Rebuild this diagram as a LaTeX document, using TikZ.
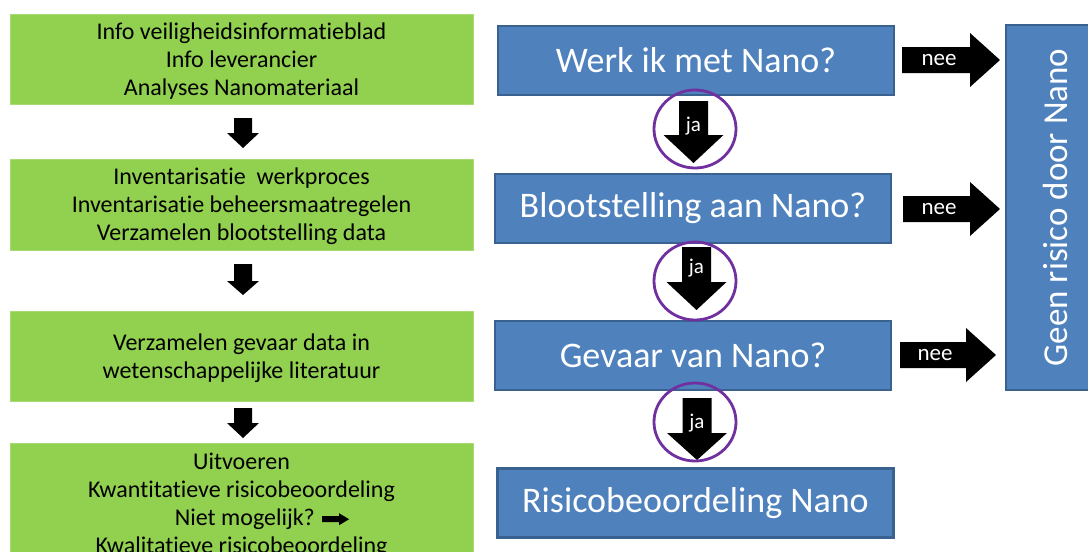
\documentclass[tikz,border=0pt]{standalone}
\usepackage{fontspec}
\setmainfont[Ligatures={NoCommon}]{Carlito}
\usetikzlibrary{shapes.geometric}
\definecolor{grn}{HTML}{92D050}
\definecolor{grnedge}{HTML}{A6DA72}
\definecolor{blu}{HTML}{4F81BD}
\definecolor{bluedge}{HTML}{3A6291}
\definecolor{purp}{HTML}{7030A0}
% block arrow pointing down: centre x, top y, head y, tip y, half shaft, half head
\newcommand\blockdown[6]{%
  \fill[black] (#1-#5,#2) -- (#1+#5,#2) -- (#1+#5,#3) -- (#1+#6,#3) -- (#1,#4)
    -- (#1-#6,#3) -- (#1-#5,#3) -- cycle;}
% block arrow pointing right: centre y, start x, head x, tip x, half shaft, half head
\newcommand\blockright[6]{%
  \fill[black] (#2,#1-#5) -- (#3,#1-#5) -- (#3,#1-#6) -- (#4,#1) -- (#3,#1+#6)
    -- (#3,#1+#5) -- (#2,#1+#5) -- cycle;}
\newcommand\smallarrow{\tikz[x=1pt,y=1pt,baseline=0pt]\fill[black] (0,3)--(17,3)--(17,0)--(27,6)--(17,12)--(17,9)--(0,9)--cycle;}
\begin{document}
\begin{tikzpicture}[x=1pt,y=-1pt,
  greenbox/.style={fill=grn, draw=grnedge, line width=0.8pt, minimum width=463pt, inner sep=0pt},
  greentext/.style={align=center, font=\fontsize{24}{28}\selectfont, inner sep=0pt, yshift=-2pt},
  bluebox/.style={fill=blu, draw=bluedge, line width=2.8pt, text=white,
    font=\fontsize{36}{40}\selectfont, minimum width=396pt, minimum height=69pt, inner sep=0pt},
  jalabel/.style={text=white, font=\fontsize{21}{22}\selectfont, inner sep=0pt},
  neelabel/.style={text=white, font=\fontsize{23}{24}\selectfont, inner sep=0pt},
  ring/.style={ellipse, draw=purp, line width=2.8pt, minimum width=82pt, minimum height=78pt, inner sep=0pt}
]
\useasboundingbox (0,0) rectangle (1088,552);
\clip (0,0) rectangle (1088,552);

% left column
\node[greenbox, minimum height=90pt] (g1) at (241.5,59) {};
\node[greentext] (g1t) at (g1.center) {Info veiligheidsinformatieblad\\Info leverancier\\Analyses Nanomateriaal};
\node[greenbox, minimum height=91pt] (g2) at (241.5,204.5) {};
\node[greentext] (g2t) at (g2.center) {Inventarisatie\ \ werkproces\\Inventarisatie beheersmaatregelen\\Verzamelen blootstelling data};
\node[greenbox, minimum height=90pt] (g3) at (241.5,356) {};
\node[greentext] (g3t) at (g3.center) {Verzamelen gevaar data in\\wetenschappelijke literatuur};
\node[greenbox, minimum height=120pt] (g4) at (241.5,503) {};
\node[greentext] (g4t) at (g4.center) {Uitvoeren\\Kwantitatieve risicobeoordeling\\\hspace*{41pt}Niet mogelijk? \smallarrow\\Kwalitatieve risicobeoordeling};

\blockdown{243}{118}{133}{148}{9}{16}
\blockdown{243}{264}{281}{295}{9}{16}
\blockdown{243}{408}{423}{438}{9}{16}

% right column
\node[bluebox] (b1) at (696,60.5) {Werk ik met Nano?};
\node[bluebox] (b2) at (693,208.5) {Blootstelling aan Nano?};
\node[bluebox] (b3) at (693,355.5) {Gevaar van Nano?};
\node[bluebox] (b4) at (695.5,503) {Risicobeoordeling Nano};

\node[fill=blu, draw=bluedge, line width=2.8pt, minimum width=98pt, minimum height=365pt, inner sep=0pt] (geen) at (1055,207.5) {};
\node[text=white, rotate=90, font=\fontsize{35}{40}\selectfont] (geentext) at (geen.center) {Geen risico door Nano};

% ja arrows
\blockdown{693.5}{101}{135}{163}{14.5}{30}
\blockdown{696.5}{247}{282}{310}{14.5}{30}
\blockdown{697}{398}{433}{460}{14.5}{30}
\node[jalabel] (j1) at (693.5,126) {ja};
\node[jalabel] (j2) at (696.5,268) {ja};
\node[jalabel] (j3) at (697,423) {ja};

% nee arrows
\blockright{60}{902}{970}{1000}{13}{27}
\blockright{209}{903}{970}{1000}{13}{27}
\blockright{355}{900}{966}{996}{13}{27}
\node[neelabel] (n1) at (939,60) {nee};
\node[neelabel] (n2) at (939,209) {nee};
\node[neelabel] (n3) at (935,355) {nee};

% rings
\node[ring] (r1) at (695,129) {};
\node[ring] (r2) at (695,281) {};
\node[ring] (r3) at (695,422) {};
\end{tikzpicture}
\end{document}
